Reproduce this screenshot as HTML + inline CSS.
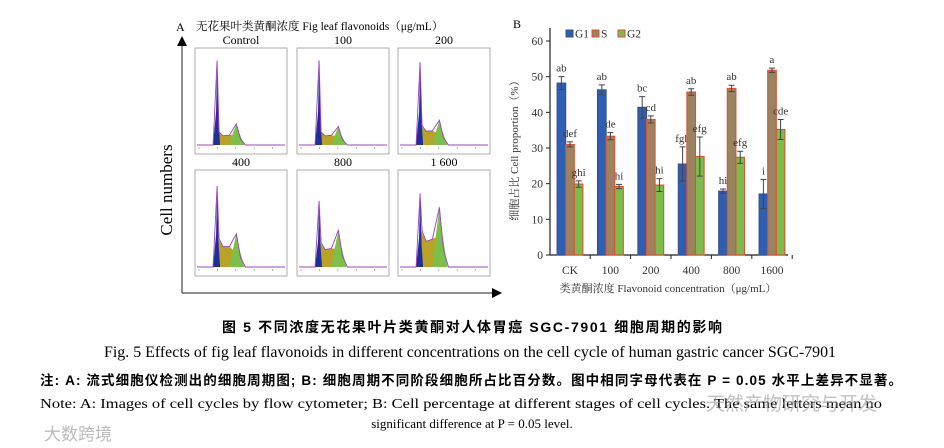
<!DOCTYPE html>
<html><head><meta charset="utf-8">
<style>
html,body{margin:0;padding:0;background:#fff;}
svg{display:block;font-family:"Liberation Serif","Noto Serif CJK SC",serif;}
</style></head>
<body>
<svg id="fig" width="944" height="448" viewBox="0 0 944 448" xmlns="http://www.w3.org/2000/svg">
  <g id="panelA">
    <text x="176" y="31" font-size="12">A</text>
    <text x="196" y="30" font-size="11.5">无花果叶类黄酮浓度  Fig leaf flavonoids（μg/mL）</text>
    <line x1="182" y1="293" x2="182" y2="44" stroke="#222" stroke-width="1"/>
    <polygon points="182,36 177,46 187,46" fill="#000"/>
    <line x1="182" y1="293" x2="494" y2="293" stroke="#222" stroke-width="1"/>
    <polygon points="502,293 492,288 492,298" fill="#000"/>
    <text transform="translate(172,190) rotate(-90)" text-anchor="middle" font-size="17">Cell numbers</text>
  </g>
  <g id="panelB">
    <text x="513" y="28" font-size="12">B</text>
    <text transform="translate(518,148) rotate(-90)" text-anchor="middle" font-size="11" fill="#333">细胞占比 Cell proportion（%）</text>
    <text x="668" y="292" text-anchor="middle" font-size="11" fill="#333">类黄酮浓度 Flavonoid concentration（μg/mL）</text>
  </g>
  <g>
    <text x="222" y="332" font-size="14" font-weight="bold" textLength="500" lengthAdjust="spacing" font-family="'Liberation Sans','Noto Sans CJK SC',sans-serif">图 5    不同浓度无花果叶片类黄酮对人体胃癌 SGC-7901 细胞周期的影响</text>
    <text x="104" y="357" font-size="16" textLength="732" lengthAdjust="spacingAndGlyphs">Fig. 5    Effects of fig leaf flavonoids in different concentrations on the cell cycle of human gastric cancer SGC-7901</text>
    <text x="40" y="385" font-size="13.5" font-weight="bold" textLength="862" lengthAdjust="spacing" font-family="'Liberation Sans','Noto Sans CJK SC',sans-serif">注: A: 流式细胞仪检测出的细胞周期图; B: 细胞周期不同阶段细胞所占比百分数。图中相同字母代表在 P = 0.05 水平上差异不显著。</text>
    <text x="40" y="408" font-size="13.5" textLength="842" lengthAdjust="spacingAndGlyphs">Note: A: Images of cell cycles by flow cytometer; B: Cell percentage at different stages of cell cycles. The same letters mean no</text>
    <text x="472" y="428" text-anchor="middle" font-size="13">significant difference at P = 0.05 level.</text>
    <text x="706" y="410" font-size="19" fill="#999" opacity="0.6" font-family="'Liberation Sans','Noto Sans CJK SC',sans-serif">天然产物研究与开发</text>
    <text x="44" y="440" font-size="17" fill="#bbb" font-family="'Liberation Sans','Noto Sans CJK SC',sans-serif">大数跨境</text>
  </g>
</svg>
<script>
// ===== Panel B data =====
const categories = ["CK","100","200","400","800","1600"];
const g1Values = [48.2,46.3,41.4,25.5,17.9,17.1];
const g1Errors = [1.8,1.4,3.0,4.8,0.6,4.1];
const sValues = [31.0,33.3,38.0,45.7,46.7,51.8];
const sErrors = [0.7,1.0,1.0,0.9,0.9,0.6];
const g2Values = [19.9,19.2,19.6,27.6,27.4,35.2];
const g2Errors = [0.9,0.6,1.8,5.5,1.7,2.8];
const g1Letters = ["ab","ab","bc","fgh","hi","i"];
const sLetters = ["def","de","cd","ab","ab","a"];
const g2Letters = ["ghi","hi","hi","efg","efg","cde"];
const yTicks = [0,10,20,30,40,50,60];
const seriesNames = ["G1","S","G2"];
// ===== Panel A data (histogram shapes) =====
const panelTitles = ["Control","100","200","400","800","1 600"];
const g1PeakHeight = [0.92,0.92,0.9,0.88,0.72,0.8];
const sPlateau = [0.1,0.1,0.15,0.22,0.19,0.28];
const g2PeakHeight = [0.23,0.2,0.27,0.36,0.4,0.65];

const NS="http://www.w3.org/2000/svg";
function mk(tag,attrs,parent){const e=document.createElementNS(NS,tag);for(const k in attrs)e.setAttribute(k,attrs[k]);parent.appendChild(e);return e;}
const B=document.getElementById("panelB");
const yScale=v=>255-v*(214/60);
const xCenter=i=>570+i*40.4;
const bw=8.6;
const ax=mk("line",{x1:550,y1:255,x2:788,y2:255,stroke:"#222","stroke-width":1.2},B);


const ay=mk("line",{x1:550,y1:255,x2:550,y2:28,stroke:"#222","stroke-width":1.2},B);


yTicks.forEach(t=>{
  const y=yScale(t);
  const l=mk("line",{x1:546,y1:y,x2:550,y2:y,stroke:"#222"},B);
  
  
  const tx=mk("text",{x:543,y:y+4,"text-anchor":"end","font-size":11.5,fill:"#333"},B);
  tx.textContent=t;
  
  
});
const series=[
  {vals:g1Values,errs:g1Errors,lets:g1Letters,fill:"#2f5fb3",stroke:"#3a4f8a",off:-bw},
  {vals:sValues,errs:sErrors,lets:sLetters,fill:"#9a8360",stroke:"#e2502f",off:0},
  {vals:g2Values,errs:g2Errors,lets:g2Letters,fill:"#7bbd4c",stroke:"#e2502f",off:bw}];
categories.forEach((c,i)=>{
  const tx=mk("text",{x:xCenter(i),y:274,"text-anchor":"middle","font-size":11.5,fill:"#333"},B);
  tx.textContent=c;
  
  
  const tk=mk("line",{x1:xCenter(i)+20.2,y1:255,x2:xCenter(i)+20.2,y2:259,stroke:"#222"},B);
  
  
  series.forEach((s,k)=>{
    const x=xCenter(i)+s.off-bw/2, v=s.vals[i], e=s.errs[i];
    const r=mk("rect",{x:x,y:yScale(v),width:bw,height:255-yScale(v),fill:s.fill,stroke:s.stroke,"stroke-width":1.1},B);
    
    
    const cx=x+bw/2;
    const eb=mk("path",{d:`M${cx},${yScale(v+e)}V${yScale(v-e)}M${cx-3},${yScale(v+e)}H${cx+3}M${cx-3},${yScale(v-e)}H${cx+3}`,stroke:"#444",fill:"none","stroke-width":1},B);
    
    
    const lt=mk("text",{x:cx,y:yScale(v+e)-5,"text-anchor":"middle","font-size":11,fill:"#333"},B);
    lt.textContent=s.lets[i];
    
    
  });
});
seriesNames.forEach((n,k)=>{
  const x=566+k*26;
  const r=mk("rect",{x:x,y:30,width:7,height:7,fill:series[k].fill,stroke:series[k].stroke},B);
  
  
  const t=mk("text",{x:x+9,y:37.5,"font-size":11.5,fill:"#333"},B);
  t.textContent=n;
  
  
});

// ===== Panel A histograms =====
const A=document.getElementById("panelA");
const cols=[195,297,398], rows=[48,170], pw=92, ph=106;
panelTitles.forEach((t,i)=>{
  const x0=cols[i%3], y0=rows[Math.floor(i/3)];
  const g=mk("g",{},A);
  
  
  const tt=mk("text",{x:x0+pw/2,y:y0-4,"text-anchor":"middle","font-size":12},g);
  tt.textContent=t;
  
  
  mk("rect",{x:x0,y:y0,width:pw,height:ph,fill:"#fff",stroke:"#999","stroke-width":0.8},g);
  const base=y0+ph-9, H=ph-14;
  const xs=x0+pw*0.24, xe=x0+pw*0.45;
  const pk=g1PeakHeight[i]*H, pl=sPlateau[i]*H, g2=g2PeakHeight[i]*H;
  mk("path",{d:`M${xs},${base} L${xs+1},${base-pl*1.4} L${xs+6},${base-pl} L${xe-7},${base-pl*0.95-(g2-pl)*0.1} L${xe-3},${base-g2*0.5} L${xe+2},${base-g2*0.2} L${xe+6},${base} Z`,fill:"#b9a326"},g);
  mk("path",{d:`M${xe-7},${base} L${xe-3},${base-g2*0.6} L${xe},${base-g2} L${xe+3},${base-g2*0.55} L${xe+8},${base} Z`,fill:"#7cc04a"},g);
  mk("path",{d:`M${xs-4},${base} L${xs-1},${base-pk*0.4} L${xs},${base-pk} L${xs+1.5},${base-pk*0.3} L${xs+3},${base} Z`,fill:"#1f2e9a"},g);
  mk("path",{d:`M${x0+2},${base} L${xs-4},${base} L${xs},${base-pk} L${xs+2},${base-pl*1.4} L${xs+6},${base-pl} L${xe-7},${base-pl*0.95-(g2-pl)*0.1} L${xe},${base-g2} L${xe+4},${base-g2*0.3} L${xe+9},${base} L${x0+pw-2},${base}`,fill:"none",stroke:"#a040c0","stroke-width":0.9},g);
  for(let k=0;k<5;k++){
    const tx=x0+4+k*pw*0.2;
    mk("line",{x1:tx,y1:base+2,x2:tx,y2:base+4,stroke:"#888","stroke-width":0.6},g);
  }
});
</script>
</body></html>
